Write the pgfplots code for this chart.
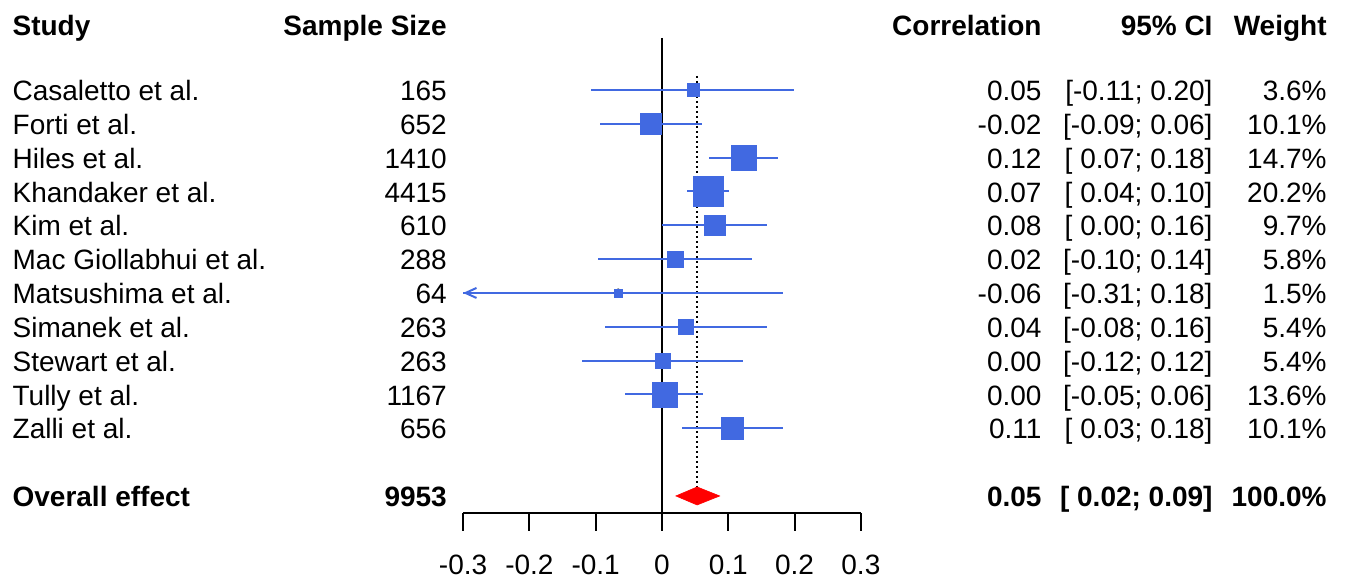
\documentclass[border=0pt]{standalone}
\usepackage{fontspec}
\setmainfont{Liberation Sans}
\usepackage{pgfplots}
\usepackage{pgfplotstable}
\pgfplotsset{compat=1.18}
\usetikzlibrary{arrows.meta}
\definecolor{sqblue}{RGB}{65,105,225}

\pgfplotstableread{
y r lo hi w
-1 0.047 -0.107 0.199 3.6
-2 -0.017 -0.094 0.060 10.1
-3 0.123 0.071 0.175 14.7
-4 0.069 0.038 0.101 20.2
-5 0.079 0.000 0.158 9.7
-6 0.020 -0.097 0.136 5.8
-7 -0.066 -0.310 0.182 1.5
-8 0.036 -0.086 0.158 5.4
-9 0.001 -0.121 0.122 5.4
-10 0.004 -0.056 0.062 13.6
-11 0.106 0.030 0.182 10.1
}\studies

\newcommand{\fs}{\fontsize{14}{17}\selectfont}
\newcommand{\row}[6]{%
  \node[inner sep=0pt, anchor=base west, yshift=-5.3pt] at (axis cs:-0.980,#1) {#2};
  \node[inner sep=0pt, anchor=base east, yshift=-5.3pt] at (axis cs:-0.324,#1) {#3};
  \node[inner sep=0pt, anchor=base east, yshift=-5.3pt] at (axis cs:0.573,#1) {#4};
  \node[inner sep=0pt, anchor=base east, yshift=-5.3pt] at (axis cs:0.831,#1) {#5};
  \node[inner sep=0pt, anchor=base east, yshift=-5.3pt] at (axis cs:1.003,#1) {#6};
}

\begin{document}
\begin{tikzpicture}[font=\fs]
\begin{axis}[
  scale only axis, width=199pt, height=237.56pt,
  xmin=-0.3, xmax=0.3, ymin=-13.5, ymax=0.536,
  axis x line*=bottom, axis y line=none,
  x axis line style={line width=1pt, -},
  xtick={-0.3,-0.2,-0.1,0,0.1,0.2,0.3},
  xticklabels={-0.3,-0.2,-0.1,0,0.1,0.2,0.3},
  xticklabel style={font=\fs, yshift=-8.5pt},
  tick align=outside, major tick length=9pt,
  xtick style={line width=1pt, black},
  clip=false,
]
% invisible frame giving the picture its size
\path (axis cs:-0.9985,1.659) rectangle (axis cs:1.0317,-15.594);

% reference lines
\addplot[black, line width=1pt] coordinates {(0,0.536) (0,-13.5)};
\addplot[black, line width=1pt, dash pattern=on 1.2pt off 1.3pt] coordinates {(0.053,-0.586) (0.053,-12.73)};

% confidence intervals
\addplot[only marks, mark=none,
  error bars/.cd, x dir=both, x explicit, error mark=none,
  error bar style={line width=1pt, sqblue}]
  table[x=r, y=y,
    x error plus expr={\thisrow{hi}-\thisrow{r}},
    x error minus expr={\thisrow{r}-max(\thisrow{lo},-0.3)}] {\studies};
\addplot[sqblue, line width=1pt, -{Straight Barb[length=5.5pt,width=5pt]}]
  coordinates {(-0.27,-7) (-0.3,-7)};

% study squares (area proportional to weight)
\addplot[only marks, mark=square*, scatter,
  scatter/use mapped color={draw=sqblue, fill=sqblue},
  mark options={line width=0.2pt},
  visualization depends on={1.67*sqrt(\thisrow{w}) \as \msz},
  scatter/@pre marker code/.append style={/tikz/mark size=\msz}]
  table[x=r, y=y] {\studies};

% overall diamond
\addplot[fill=red, draw=red, line width=0.3pt]
  coordinates {(0.021,-13) (0.053,-12.734) (0.087,-13) (0.053,-13.266)} -- cycle;

% text columns
\row{0.92}{\bfseries Study}{\bfseries Sample Size}{\bfseries Correlation}{\bfseries 95\% CI}{\bfseries Weight}
\row{-1}{Casaletto et al.}{165}{0.05}{[-0.11; 0.20]}{3.6\%}
\row{-2}{Forti et al.}{652}{-0.02}{[-0.09; 0.06]}{10.1\%}
\row{-3}{Hiles et al.}{1410}{0.12}{[ 0.07; 0.18]}{14.7\%}
\row{-4}{Khandaker et al.}{4415}{0.07}{[ 0.04; 0.10]}{20.2\%}
\row{-5}{Kim et al.}{610}{0.08}{[ 0.00; 0.16]}{9.7\%}
\row{-6}{Mac Giollabhui et al.}{288}{0.02}{[-0.10; 0.14]}{5.8\%}
\row{-7}{Matsushima et al.}{64}{-0.06}{[-0.31; 0.18]}{1.5\%}
\row{-8}{Simanek et al.}{263}{0.04}{[-0.08; 0.16]}{5.4\%}
\row{-9}{Stewart et al.}{263}{0.00}{[-0.12; 0.12]}{5.4\%}
\row{-10}{Tully et al.}{1167}{0.00}{[-0.05; 0.06]}{13.6\%}
\row{-11}{Zalli et al.}{656}{0.11}{[ 0.03; 0.18]}{10.1\%}
\row{-13}{\bfseries Overall effect}{\bfseries 9953}{\bfseries 0.05}{\bfseries [ 0.02; 0.09]}{\bfseries 100.0\%}
\end{axis}
\end{tikzpicture}
\end{document}
